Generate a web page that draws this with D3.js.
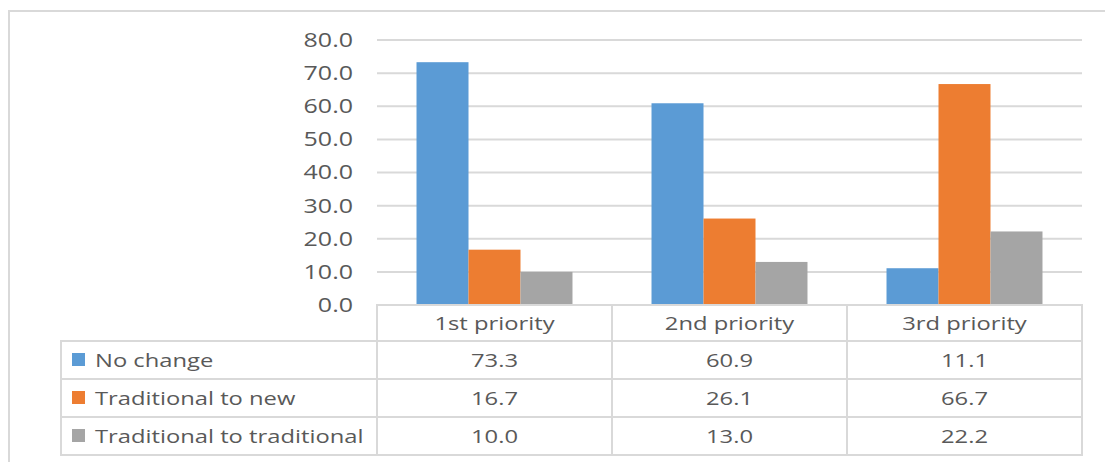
<!DOCTYPE html>
<html>
<head>
<meta charset="utf-8">
<script src="https://cdn.jsdelivr.net/npm/d3@7"></script>
<style>
  body { margin: 0; background: #fff; }
  text { font-family: "Open Sans", "Liberation Sans", sans-serif; fill: #595959; }
</style>
</head>
<body>
<script>
const categories = ["1st priority", "2nd priority", "3rd priority"];
const seriesNames = ["No change", "Traditional to new", "Traditional to traditional"];
const noChange = [73.3, 60.9, 11.1];
const tradToNew = [16.7, 26.1, 66.7];
const tradToTrad = [10.0, 13.0, 22.2];
const yTicks = [0, 10, 20, 30, 40, 50, 60, 70, 80];
const colors = ["#5b9bd5", "#ed7d31", "#a5a5a5"];

const seriesValues = [noChange, tradToNew, tradToTrad];

const width = 1105, height = 462;
const plotLeft = 377, plotRight = 1082;
const plotTop = 40, plotBottom = 305;
const headerBottom = 341;
const rowH = 38;
const legendLeft = 61;
const stretch = 1.25;  // the source image is a bit wide horizontally

const svg = d3.select("body").append("svg")
    .attr("width", width)
    .attr("height", height);

// stretched text helper
function addText(g, x, y, str, anchor, size) {
    return g.append("text")
        .attr("transform", "translate(" + x + "," + y + ") scale(" + stretch + ",1)")
        .attr("dy", "0.35em")
        .attr("text-anchor", anchor)
        .attr("font-size", size)
        .text(str);
}

// outer frame
svg.append("path")
    .attr("d", "M9," + height + " L9,11 L" + width + ",11")
    .attr("fill", "none")
    .attr("stroke", "#d9d9d9")
    .attr("stroke-width", 2);

const yScale = d3.scaleLinear()
    .domain([0, 80])
    .range([plotBottom, plotTop]);

const x0 = d3.scaleBand()
    .domain(categories)
    .range([plotLeft, plotRight])
    .paddingInner(0);

const x1 = d3.scaleBand()
    .domain(seriesNames)
    .range([0, x0.bandwidth()])
    .paddingInner(0)
    .paddingOuter(0.76);

// gridlines
svg.append("g").selectAll("line")
    .data(yTicks.filter(t => t > 0))
    .enter()
    .append("line")
    .attr("x1", plotLeft)
    .attr("x2", plotRight)
    .attr("y1", d => yScale(d))
    .attr("y2", d => yScale(d))
    .attr("stroke", "#d9d9d9")
    .attr("stroke-width", 2);

// y axis labels
const yAxis = d3.axisLeft(yScale)
    .tickValues(yTicks)
    .tickFormat(d3.format(".1f"))
    .tickSize(0)
    .tickPadding(0);
const yg = svg.append("g")
    .attr("transform", "translate(353,0)")
    .call(yAxis);
yg.select(".domain").remove();
yg.selectAll("text")
    .attr("font-size", 20)
    .attr("font-family", null)
    .attr("fill", "#595959")
    .attr("transform", "scale(" + stretch + ",1)");

// bars
const groups = svg.append("g").selectAll("g")
    .data(categories)
    .enter()
    .append("g")
    .attr("transform", d => "translate(" + x0(d) + ",0)");

groups.selectAll("rect")
    .data((d, i) => seriesNames.map((s, j) => ({ s: s, v: seriesValues[j][i], c: colors[j] })))
    .enter()
    .append("rect")
    .attr("x", d => x1(d.s))
    .attr("width", x1.bandwidth())
    .attr("y", d => yScale(d.v))
    .attr("height", d => yScale(0) - yScale(d.v))
    .attr("fill", d => d.c);

// data table
const table = svg.append("g");
const lineColor = "#d9d9d9";

// header row border
table.append("rect")
    .attr("x", plotLeft).attr("y", plotBottom)
    .attr("width", plotRight - plotLeft).attr("height", headerBottom - plotBottom)
    .attr("fill", "none").attr("stroke", lineColor).attr("stroke-width", 2);

// body
const bodyBottom = headerBottom + rowH * seriesNames.length;
table.append("rect")
    .attr("x", legendLeft).attr("y", headerBottom)
    .attr("width", plotRight - legendLeft).attr("height", bodyBottom - headerBottom)
    .attr("fill", "none").attr("stroke", lineColor).attr("stroke-width", 2);

// row lines
table.selectAll(".rowline")
    .data(seriesNames.slice(1))
    .enter()
    .append("line")
    .attr("x1", legendLeft).attr("x2", plotRight)
    .attr("y1", (d, i) => headerBottom + rowH * (i + 1))
    .attr("y2", (d, i) => headerBottom + rowH * (i + 1))
    .attr("stroke", lineColor).attr("stroke-width", 2);

// column lines
table.selectAll(".colline")
    .data(categories)
    .enter()
    .append("line")
    .attr("x1", d => x0(d)).attr("x2", d => x0(d))
    .attr("y1", plotBottom).attr("y2", bodyBottom)
    .attr("stroke", lineColor).attr("stroke-width", 2);

// header text
categories.forEach(c => {
    addText(table, x0(c) + x0.bandwidth() / 2, (plotBottom + headerBottom) / 2, c, "middle", 19);
});

// legend rows
seriesNames.forEach((s, j) => {
    const cy = headerBottom + rowH * j + rowH / 2;
    table.append("rect")
        .attr("x", 72).attr("y", cy - 7)
        .attr("width", 13).attr("height", 13)
        .attr("fill", colors[j]);
    addText(table, 95, cy, s, "start", 19);
    categories.forEach((c, i) => {
        addText(table, x0(c) + x0.bandwidth() / 2, cy, seriesValues[j][i].toFixed(1), "middle", 19);
    });
});
</script>
</body>
</html>
